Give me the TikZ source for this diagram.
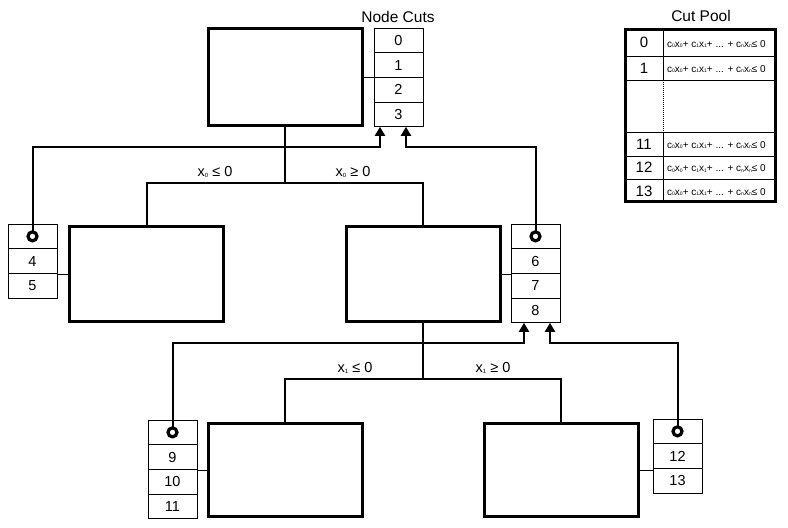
\documentclass[tikz,border=0pt]{standalone}
\usepackage{fontspec}
\setmainfont{Liberation Sans}
\usetikzlibrary{arrows.meta,calc}
\newcommand\tinysub[1]{\raisebox{-0.6pt}{\fontsize{5}{5}\selectfont #1}}
\newcommand\lblsub[1]{\raisebox{-0.8pt}{\fontsize{6}{6}\selectfont #1}}
\newcommand\cutformula{c\tinysub{0}x\tinysub{0}+ c\tinysub{1}x\tinysub{1}+ ... + c\tinysub{n}x\tinysub{n}≤ 0}
\begin{document}
\begin{tikzpicture}[x=1pt,y=-1pt,
  bnode/.style={draw, line width=3pt, minimum width=154pt, minimum height=95pt, inner sep=0pt, outer sep=0pt},
  cell/.style={draw, line width=0.8pt, minimum width=49pt, minimum height=24.7pt, inner sep=0pt, outer sep=0pt, anchor=north west, font=\fontsize{14.5}{16}\selectfont},
  ring/.style={circle, draw, fill=white, line width=3.2pt, minimum size=9pt, inner sep=0pt},
  edge/.style={draw, line width=2pt},
  thinlink/.style={draw, line width=0.8pt},
  cutarrow/.style={draw, line width=2pt, -{Triangle[width=10pt,length=9pt]}},
  lbl/.style={font=\fontsize{14.5}{16}\selectfont, inner sep=0pt},
  ttl/.style={font=\fontsize{15.5}{17}\selectfont, inner sep=0pt},
  num/.style={font=\fontsize{15}{16}\selectfont, inner sep=0pt},
  frm/.style={font=\fontsize{10}{11}\selectfont, inner sep=0pt, anchor=west}
]
\useasboundingbox (0,0) rectangle (788,528);

% boxes
\node[bnode, minimum height=97pt] (root) at (285,77) {};
\node[bnode] (box2) at (146.5,274) {};
\node[bnode] (box3) at (423,274) {};
\node[bnode, minimum height=93pt] (box4) at (285,470) {};
\node[bnode, minimum height=93pt] (box5) at (561,470) {};

% node cuts table (root)
\node[ttl] (nctitle) at (398,17) {Node Cuts};
\node[cell] (t0) at (374,28) {0};
\node[cell] (t1) at (374,52.7) {1};
\node[cell] (t2) at (374,77.4) {2};
\node[cell] (t3) at (374,102.1) {3};

% table A
\node[cell] (aR) at (8,224) {};
\node[cell] (a4) at (8,248.7) {4};
\node[cell] (a5) at (8,273.4) {5};

% table B
\node[cell] (bR) at (511,224) {};
\node[cell] (b6) at (511,248.7) {6};
\node[cell] (b7) at (511,273.4) {7};
\node[cell] (b8) at (511,298.1) {8};

% table C
\node[cell] (cR) at (148,420) {};
\node[cell] (c9) at (148,444.7) {9};
\node[cell] (c10) at (148,469.4) {10};
\node[cell] (c11) at (148,494.1) {11};

% table D
\node[cell] (dR) at (653,419) {};
\node[cell] (d12) at (653,443.7) {12};
\node[cell] (d13) at (653,468.4) {13};

% thin links from box to its table
\draw[thinlink] (root.east) -- (root.east -| t1.west);
\draw[thinlink] (box2.west) -- (box2.west -| a4.east);
\draw[thinlink] (box3.east) -- (box3.east -| b7.west);
\draw[thinlink] (box4.west) -- (box4.west -| c10.east);
\draw[thinlink] (box5.east) -- (box5.east -| d13.west);

% tree edges
\coordinate (j0) at (285,183);
\coordinate (j1) at (423,379);
\draw[edge] (root.south) -- (j0);
\draw[edge] (box2.north) |- (j0) -| (box3.north);
\draw[edge] (box3.south) -- (j1);
\draw[edge] (box4.north) |- (j1) -| (box5.north);

% edge labels
\node[lbl] (l1) at (215,172) {x\lblsub{0} ≤ 0};
\node[lbl] (l2) at (353,172) {x\lblsub{0} ≥ 0};
\node[lbl] (l3) at (355,368) {x\lblsub{1} ≤ 0};
\node[lbl] (l4) at (493,368) {x\lblsub{1} ≥ 0};

% cut arrows
\coordinate (pL) at (380,147);
\coordinate (pR) at (406,147);
\coordinate (qL) at (524,343);
\coordinate (qR) at (550,343);
\draw[cutarrow] (aR.center) |- (pL) -- (pL |- t3.south);
\draw[cutarrow] (bR.center) |- (pR) -- (pR |- t3.south);
\draw[cutarrow] (cR.center) |- (qL) -- (qL |- b8.south);
\draw[cutarrow] (dR.center) |- (qR) -- (qR |- b8.south);

% rings
\node[ring] (ringA) at (aR.center) {};
\node[ring] (ringB) at (bR.center) {};
\node[ring] (ringC) at (cR.center) {};
\node[ring] (ringD) at (dR.center) {};

% cut pool
\node[ttl] (cptitle) at (701,16) {Cut Pool};
\node[draw, line width=3pt, minimum width=150pt, minimum height=172pt, inner sep=0pt, outer sep=0pt] (pool) at (700.5,115.5) {};
\draw[line width=0.8pt] (625,56) -- (776,56);
\draw[line width=0.8pt] (625,80) -- (776,80);
\draw[line width=0.8pt] (625,132) -- (776,132);
\draw[line width=0.8pt] (625,156) -- (776,156);
\draw[line width=0.8pt] (625,179) -- (776,179);
\draw[line width=0.8pt] (663,29.5) -- (663,80);
\draw[line width=0.8pt, dash pattern=on 1pt off 1pt] (663,80) -- (663,132);
\draw[line width=0.8pt] (663,132) -- (663,201.5);

\node[num] (p0) at (644,42.5) {0};
\node[num] (p1) at (644,68) {1};
\node[num] (p11) at (644,144) {11};
\node[num] (p12) at (644,167.5) {12};
\node[num] (p13) at (644,191) {13};
\node[frm] (f0) at (667,44) {\cutformula};
\node[frm] (f1) at (667,69) {\cutformula};
\node[frm] (f11) at (667,145) {\cutformula};
\node[frm] (f12) at (667,168.5) {\cutformula};
\node[frm] (f13) at (667,192) {\cutformula};
\end{tikzpicture}
\end{document}
